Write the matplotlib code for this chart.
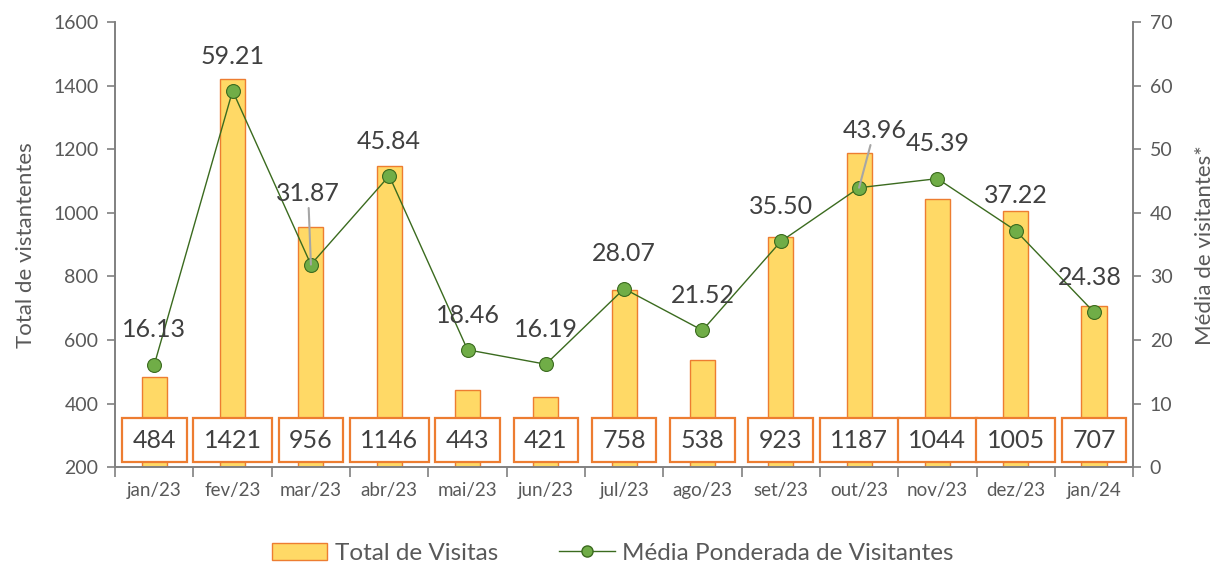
import matplotlib.pyplot as plt
from matplotlib.patches import Patch
from matplotlib.lines import Line2D

plt.rcParams['font.family'] = ['Lato', 'DejaVu Sans']

months = ['jan/23', 'fev/23', 'mar/23', 'abr/23', 'mai/23', 'jun/23', 'jul/23',
          'ago/23', 'set/23', 'out/23', 'nov/23', 'dez/23', 'jan/24']
total_visitas = [484, 1421, 956, 1146, 443, 421, 758, 538, 923, 1187, 1044, 1005, 707]
media_ponderada = [16.13, 59.21, 31.87, 45.84, 18.46, 16.19, 28.07, 21.52, 35.50,
                   43.96, 45.39, 37.22, 24.38]

BAR_FILL = '#ffd966'
BAR_EDGE = '#ed7d31'
LINE_COLOR = '#3b6b1f'
MARKER_FILL = '#70ad47'
AXIS_GRAY = '#808080'
TEXT_GRAY = '#595959'
LABEL_DARK = '#404040'

fig = plt.figure(figsize=(12.25, 5.69), dpi=100)
ax = fig.add_axes([0.094, 0.179, 0.831, 0.782])
ax2 = ax.twinx()

x = list(range(len(months)))
ax.bar(x, [v - 200 for v in total_visitas], bottom=200, width=0.32,
       color=BAR_FILL, edgecolor=BAR_EDGE, linewidth=1.0, zorder=2)
ax.set_xlim(-0.5, len(months) - 0.5)
ax.set_ylim(200, 1600)
ax.set_yticks(range(200, 1601, 200))

# value boxes near the bottom of the bars
for xi, v in zip(x, total_visitas):
    ax.text(xi, 0.061, str(v), transform=ax.get_xaxis_transform(),
            ha='center', va='center', fontsize=18, color=LABEL_DARK, zorder=5,
            bbox=dict(boxstyle='square,pad=0.42', fc='white', ec=BAR_EDGE, lw=1.6))

ax2.plot(x, media_ponderada, color=LINE_COLOR, lw=1.0, marker='o', markersize=10,
         markerfacecolor=MARKER_FILL, markeredgecolor=LINE_COLOR, markeredgewidth=0.8,
         zorder=3)
ax2.set_ylim(0, 70)
ax2.set_yticks(range(0, 71, 10))

# label offsets in points (default: straight above)
offsets = {2: (-2, 51), 9: (11, 41)}
for i, v in enumerate(media_ponderada):
    dx, dy = offsets.get(i, (0, 25))
    if i == 12:
        dx = -3
    arrow = None
    if i in offsets:
        arrow = dict(arrowstyle='-', color='#a6a6a6', lw=1.5, shrinkA=0, shrinkB=0)
    ax2.annotate(f'{v:.2f}', (i, v), xytext=(dx, dy), textcoords='offset points',
                 ha='center', va='center', fontsize=18, color=LABEL_DARK,
                 arrowprops=arrow, zorder=6)

# x ticks between the categories
ax.set_xticks(x)
ax.set_xticklabels(months, fontsize=13.5, color=TEXT_GRAY)
ax.tick_params(axis='x', which='major', length=0, pad=11)
ax.set_xticks([i - 0.5 for i in range(len(months) + 1)], minor=True)
ax.tick_params(axis='x', which='minor', length=7, width=1.2, color=AXIS_GRAY)

ax.tick_params(axis='y', length=6, width=1.2, color=AXIS_GRAY, labelsize=14,
               labelcolor=TEXT_GRAY, pad=6)
ax2.tick_params(axis='y', length=6, width=1.2, color=AXIS_GRAY, labelsize=14,
                labelcolor=TEXT_GRAY, pad=6)

for a in (ax, ax2):
    a.spines['top'].set_visible(False)
    for s in ('left', 'right', 'bottom'):
        a.spines[s].set_color(AXIS_GRAY)
        a.spines[s].set_linewidth(1.2)

ax.set_ylabel('Total de vistantentes', fontsize=16, color=TEXT_GRAY, labelpad=12)
ax2.set_ylabel('Média de visitantes*', fontsize=16, color=TEXT_GRAY, labelpad=16)

handles = [Patch(facecolor=BAR_FILL, edgecolor=BAR_EDGE, linewidth=1.0),
           Line2D([], [], color=LINE_COLOR, lw=1.0, marker='o', markersize=8,
                  markerfacecolor=MARKER_FILL, markeredgecolor=LINE_COLOR)]
fig.legend(handles, ['Total de Visitas', 'Média Ponderada de Visitantes'],
           loc='center', bbox_to_anchor=(0.5, 0.028), ncol=2, frameon=False,
           fontsize=17.5, labelcolor=TEXT_GRAY, handlelength=2.3, handletextpad=0.3,
           columnspacing=2.5)

fig.savefig('out.png', dpi=100)
